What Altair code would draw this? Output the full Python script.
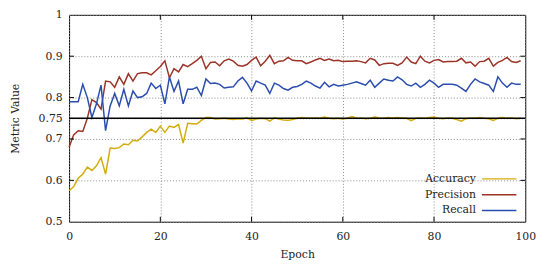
import altair as alt
import pandas as pd

epochs = list(range(100))

accuracy = [
    0.575, 0.585, 0.605, 0.615, 0.632, 0.624, 0.635, 0.655, 0.615, 0.678,
    0.677, 0.679, 0.688, 0.686, 0.697, 0.695, 0.705, 0.716, 0.724, 0.716,
    0.731, 0.716, 0.731, 0.728, 0.735, 0.690, 0.738, 0.737, 0.736, 0.745,
    0.752, 0.752, 0.748, 0.749, 0.750, 0.748, 0.747, 0.749, 0.748, 0.751,
    0.745, 0.748, 0.750, 0.749, 0.743, 0.751, 0.748, 0.746, 0.745, 0.747,
    0.750, 0.752, 0.751, 0.750, 0.751, 0.750, 0.753, 0.750, 0.749, 0.750,
    0.748, 0.750, 0.754, 0.750, 0.751, 0.749, 0.750, 0.753, 0.751, 0.750,
    0.752, 0.751, 0.752, 0.751, 0.750, 0.744, 0.750, 0.751, 0.750, 0.752,
    0.753, 0.750, 0.749, 0.751, 0.750, 0.747, 0.743, 0.749, 0.751, 0.750,
    0.752, 0.750, 0.749, 0.745, 0.750, 0.752, 0.750, 0.751, 0.749, 0.750,
]

precision = [
    0.680, 0.710, 0.720, 0.718, 0.750, 0.795, 0.788, 0.772, 0.840, 0.838,
    0.825, 0.850, 0.832, 0.858, 0.840, 0.858, 0.860, 0.860, 0.855, 0.865,
    0.875, 0.889, 0.848, 0.870, 0.862, 0.880, 0.875, 0.882, 0.890, 0.900,
    0.870, 0.885, 0.886, 0.877, 0.889, 0.893, 0.888, 0.878, 0.876, 0.880,
    0.890, 0.898, 0.877, 0.888, 0.902, 0.882, 0.888, 0.889, 0.897, 0.890,
    0.889, 0.889, 0.882, 0.886, 0.891, 0.895, 0.890, 0.893, 0.889, 0.890,
    0.887, 0.888, 0.888, 0.889, 0.887, 0.884, 0.895, 0.891, 0.878, 0.882,
    0.883, 0.883, 0.878, 0.884, 0.898, 0.886, 0.882, 0.900, 0.888, 0.884,
    0.890, 0.892, 0.886, 0.887, 0.887, 0.888, 0.895, 0.884, 0.886, 0.876,
    0.887, 0.888, 0.895, 0.876, 0.885, 0.890, 0.897, 0.887, 0.885, 0.889,
]

recall = [
    0.790, 0.790, 0.790, 0.832, 0.800, 0.752, 0.785, 0.830, 0.720, 0.780,
    0.810, 0.780, 0.820, 0.780, 0.816, 0.800, 0.802, 0.810, 0.835, 0.822,
    0.830, 0.785, 0.850, 0.815, 0.840, 0.785, 0.820, 0.820, 0.825, 0.805,
    0.845, 0.834, 0.835, 0.832, 0.823, 0.825, 0.826, 0.840, 0.849, 0.835,
    0.816, 0.840, 0.835, 0.830, 0.810, 0.835, 0.830, 0.822, 0.818, 0.825,
    0.827, 0.832, 0.840, 0.835, 0.828, 0.823, 0.837, 0.826, 0.832, 0.828,
    0.830, 0.832, 0.835, 0.838, 0.834, 0.830, 0.842, 0.825, 0.835, 0.845,
    0.842, 0.840, 0.850, 0.843, 0.832, 0.828, 0.835, 0.825, 0.832, 0.842,
    0.835, 0.825, 0.832, 0.832, 0.832, 0.830, 0.823, 0.815, 0.832, 0.845,
    0.838, 0.834, 0.830, 0.815, 0.850, 0.835, 0.825, 0.835, 0.832, 0.832,
]

series_names = ["Accuracy", "Precision", "Recall"]
series_colors = ["#D4AC0D", "#9B3327", "#2A4DAE"]
x_ticks = [0, 20, 40, 60, 80, 100]
y_ticks = [0.5, 0.6, 0.7, 0.75, 0.8, 0.9, 1.0]
inner_x_ticks = [20, 40, 60, 80]
inner_y_ticks = [0.6, 0.7, 0.8, 0.9]
reference_value = [0.75]

rows = []
for name, vals in zip(series_names, [accuracy, precision, recall]):
    for e, v in zip(epochs, vals):
        rows.append({"Epoch": e, "Metric": name, "Value": v})
df = pd.DataFrame(rows)

W, H = 463, 210
FONT = "DejaVu Serif"
TXT = "#222222"

x_scale = alt.Scale(domain=[0, 100], nice=False)
y_scale = alt.Scale(domain=[0.5, 1.0], nice=False)

x_axis = alt.Axis(values=x_ticks, title="Epoch", ticks=False, tickSize=0,
                  domain=False, labelPadding=9, titlePadding=7,
                  labelFlush=False, labelOverlap=False, grid=True,
                  gridColor="#8a8a8a", gridDash=[1, 2], gridWidth=1)
y_axis = alt.Axis(values=y_ticks, labelExpr="toString(datum.value)",
                  title="Metric Value",
                  ticks=False, tickSize=0, domain=False, labelPadding=7,
                  titlePadding=18, labelOverlap=False, labelFlush=False,
                  grid=True, gridColor="#8a8a8a", gridDash=[1, 2], gridWidth=1)

lines = alt.Chart(df).mark_line(strokeWidth=1.5).encode(
    x=alt.X("Epoch:Q", scale=x_scale, axis=x_axis),
    y=alt.Y("Value:Q", scale=y_scale, axis=y_axis),
    color=alt.Color(
        "Metric:N",
        scale=alt.Scale(domain=series_names, range=series_colors),
        legend=alt.Legend(
            title=None, orient="bottom-right", offset=6,
            symbolType="M-5,0H5", symbolStrokeWidth=1.5, symbolSize=49,
            labelAlign="right", labelOffset={"expr": "-29"},
            rowPadding=4, padding=0,
        ),
    ),
    order="Epoch:Q",
)

ref = alt.Chart(pd.DataFrame({"v": reference_value})).mark_rule(
    color="black", strokeWidth=1.5
).encode(y=alt.Y("v:Q", scale=y_scale, axis=y_axis))

ydf = pd.DataFrame({"v": inner_y_ticks})
xdf = pd.DataFrame({"v": inner_x_ticks})
tick_style = dict(color="black", strokeWidth=1)
yl = alt.Chart(ydf).mark_rule(**tick_style).encode(
    y=alt.Y("v:Q", scale=y_scale, axis=y_axis), x=alt.value(0), x2=alt.value(5))
yr = alt.Chart(ydf).mark_rule(**tick_style).encode(
    y=alt.Y("v:Q", scale=y_scale, axis=y_axis), x=alt.value(W - 5), x2=alt.value(W))
xb = alt.Chart(xdf).mark_rule(**tick_style).encode(
    x=alt.X("v:Q", scale=x_scale, axis=x_axis), y=alt.value(H - 5), y2=alt.value(H))
xt = alt.Chart(xdf).mark_rule(**tick_style).encode(
    x=alt.X("v:Q", scale=x_scale, axis=x_axis), y=alt.value(0), y2=alt.value(5))

chart = alt.layer(lines, ref, yl, yr, xb, xt).properties(
    width=W, height=H,
    padding={"left": 62, "top": 5, "right": 17, "bottom": 44},
    autosize=alt.AutoSizeParams(type="none"),
).configure_view(
    stroke="black", strokeWidth=1
).configure_axis(
    labelFont=FONT, titleFont=FONT, labelFontSize=11, titleFontSize=11,
    titleFontWeight="normal", labelColor=TXT, titleColor=TXT,
    labelOverlap=False,
).configure_legend(
    labelFont=FONT, labelFontSize=11, labelColor=TXT,
)

chart.save("out.html", embed_options={"renderer": "svg", "actions": False})
